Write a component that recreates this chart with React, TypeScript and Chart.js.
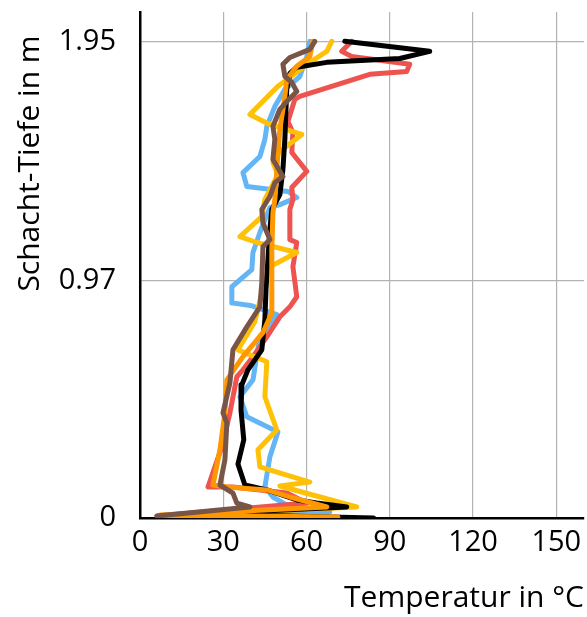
import React, { useEffect, useRef } from "react";
import { Chart, registerables } from "chart.js";

Chart.register(...registerables);

// [temperature °C, depth m]
const blackSeries: [number, number][] = [
  [73.8, 1.95], [104.4, 1.909], [93.6, 1.88], [67.3, 1.864], [56.5, 1.844], [54.0, 1.819],
  [52.9, 1.754], [52.6, 1.672], [52.2, 1.549], [51.5, 1.426], [50.4, 1.323], [47.5, 1.262],
  [46.8, 1.18], [46.1, 1.057], [45.4, 0.934], [45.0, 0.811], [43.9, 0.688], [38.9, 0.606],
  [36.7, 0.545], [36.4, 0.442], [37.4, 0.32], [35.3, 0.221], [37.8, 0.135], [45.7, 0.115],
  [56.5, 0.074], [63.7, 0.061], [74.5, 0.045], [21.6, 0.016], [84.2, 0],
];
const redSeries: [number, number][] = [
  [76.3, 1.95], [72.7, 1.909], [76.3, 1.888], [97.2, 1.856], [96.1, 1.827], [82.8, 1.815],
  [57.6, 1.725], [55.8, 1.713], [53.3, 1.622], [55.1, 1.577], [54.7, 1.495], [60.1, 1.418],
  [54.7, 1.352], [55.1, 1.303], [54.0, 1.262], [54.0, 1.139], [56.5, 1.127], [55.1, 1.028],
  [56.5, 0.905], [54.0, 0.864], [50.4, 0.823], [45.7, 0.741], [40.7, 0.66], [37.1, 0.606],
  [34.9, 0.578], [32.4, 0.43], [29.5, 0.291], [27.0, 0.209], [24.5, 0.127], [33.5, 0.127],
  [52.9, 0.102], [60.1, 0.061], [6.1, 0.008], [72.0, 0],
];
const blueSeries: [number, number][] = [
  [61.2, 1.95], [60.1, 1.888], [57.6, 1.806], [52.2, 1.754], [48.6, 1.684], [45.7, 1.602],
  [45.0, 1.549], [43.2, 1.479], [37.1, 1.413], [38.5, 1.356], [53.3, 1.336], [56.5, 1.311],
  [50.4, 1.282], [46.8, 1.27], [43.2, 1.168], [40.7, 1.086], [40.3, 1.016], [33.1, 0.946],
  [33.1, 0.88], [40.3, 0.868], [49.3, 0.832], [43.2, 0.741], [40.7, 0.565], [36.0, 0.496],
  [38.5, 0.414], [49.7, 0.352], [46.8, 0.25], [45.0, 0.127], [47.9, 0.086], [52.9, 0.053],
  [68.4, 0.025], [7.2, 0.008], [68.4, 0],
];
const yellowSeries: [number, number][] = [
  [69.1, 1.95], [67.3, 1.909], [61.2, 1.864], [56.5, 1.823], [49.7, 1.766], [39.6, 1.651],
  [46.8, 1.61], [58.3, 1.569], [50.4, 1.499], [47.9, 1.454], [49.7, 1.405], [45.0, 1.303],
  [43.9, 1.233], [36.0, 1.151], [42.1, 1.127], [56.5, 1.086], [46.8, 1.028], [43.9, 0.922],
  [41.4, 0.803], [35.3, 0.688], [45.7, 0.639], [45.0, 0.496], [49.3, 0.36], [42.5, 0.279],
  [43.2, 0.209], [61.2, 0.147], [50.4, 0.131], [78.1, 0.045], [9.0, 0.008], [75.6, 0],
];
const orangeSeries: [number, number][] = [
  [62.3, 1.95], [61.2, 1.888], [56.5, 1.848], [52.9, 1.794], [52.2, 1.725], [50.4, 1.59],
  [49.3, 1.426], [48.6, 1.303], [47.9, 1.249], [47.5, 1.098], [47.5, 0.975], [47.5, 0.84],
  [44.3, 0.758], [37.1, 0.66], [31.3, 0.565], [30.6, 0.43], [28.8, 0.279], [26.3, 0.135],
  [31.3, 0.127], [45.7, 0.115], [54.0, 0.086], [67.3, 0.045], [7.2, 0.012], [71.3, 0.004],
];
const brownSeries: [number, number][] = [
  [63.0, 1.95], [61.2, 1.917], [54.0, 1.884], [51.5, 1.856], [52.2, 1.807], [54.7, 1.782],
  [56.5, 1.745], [52.9, 1.704], [50.4, 1.672], [47.9, 1.602], [48.6, 1.549], [47.9, 1.467],
  [51.5, 1.397], [48.6, 1.372], [46.8, 1.315], [43.9, 1.262], [44.3, 1.208], [46.8, 1.139],
  [44.3, 1.11], [43.9, 0.963], [43.2, 0.864], [38.5, 0.782], [33.5, 0.688], [32.4, 0.553],
  [29.9, 0.43], [31.3, 0.389], [30.6, 0.238], [28.8, 0.135], [33.5, 0.102], [34.9, 0.061],
  [39.6, 0.045], [6.1, 0.008],
];

const xTicks = [0, 30, 60, 90, 120, 150];
const yTicks = [0, 0.97, 1.95];
const yTickLabels = ["0", "0.97", "1.95"];

const FONT = "'Open Sans', 'Noto Sans', sans-serif";

export default function App() {
  const ref = useRef<HTMLCanvasElement>(null);
  useEffect(() => {
    if (!ref.current) return;
    const mk = (data: [number, number][], color: string, order: number) => ({
      data: data.map(([x, y]) => ({ x, y })),
      borderColor: color,
      backgroundColor: color,
      borderWidth: 5,
      showLine: true,
      pointRadius: 0,
      borderCapStyle: "round" as const,
      borderJoinStyle: "round" as const,
      order,
    });
    const chart = new Chart(ref.current, {
      type: "scatter",
      data: {
        datasets: [
          mk(blueSeries, "#64B5F6", 5),
          mk(redSeries, "#EF5350", 4),
          mk(yellowSeries, "#FFC107", 3),
          mk(blackSeries, "#000000", 2),
          mk(orangeSeries, "#FF9800", 1),
          mk(brownSeries, "#795548", 0),
        ],
      },
      options: {
        animation: false,
        responsive: false,
        maintainAspectRatio: false,
        layout: { padding: { top: 12, right: 3, left: 0, bottom: 0 } },
        plugins: { legend: { display: false }, tooltip: { enabled: false } },
        scales: {
          x: {
            type: "linear",
            min: 0,
            max: 160,
            afterBuildTicks: (axis: any) => {
              axis.ticks = xTicks.map((v) => ({ value: v }));
            },
            afterFit: (axis: any) => {
              axis.height = 99;
              axis.paddingLeft = 0;
              axis.paddingRight = 0;
            },
            grid: { color: "#b3b3b3", lineWidth: 1.2, drawTicks: false },
            border: { color: "#000", width: 2.5 },
            ticks: {
              color: "#000",
              font: { family: FONT, size: 29 },
              padding: 7,
              maxRotation: 0,
            },
            title: {
              display: true,
              text: "Temperatur in °C",
              align: "end",
              color: "#000",
              font: { family: FONT, size: 30 },
              padding: { top: 8, bottom: 1 },
            },
          },
          y: {
            type: "linear",
            min: 0,
            max: 2.07,
            afterBuildTicks: (axis: any) => {
              axis.ticks = yTicks.map((v) => ({ value: v }));
            },
            afterFit: (axis: any) => {
              axis.width = 140;
              axis.paddingTop = 0;
              axis.paddingBottom = 0;
            },
            grid: { color: "#b3b3b3", lineWidth: 1.2, drawTicks: false },
            border: { color: "#000", width: 2.5 },
            ticks: {
              color: "#000",
              font: { family: FONT, size: 29 },
              padding: 24,
              callback: (v: any) => {
                const i = yTicks.indexOf(Number(v));
                return i >= 0 ? yTickLabels[i] : "";
              },
            },
            title: {
              display: true,
              text: "Schacht-Tiefe in m   ",
              align: "end",
              color: "#000",
              font: { family: FONT, size: 30 },
              padding: { top: 12, bottom: 0 },
            },
          },
        },
      },
    });
    return () => chart.destroy();
  }, []);
  return (
    <div style={{ position: "fixed", left: 0, top: 0, width: 587, height: 617, background: "#fff" }}>
      <canvas ref={ref} width={587} height={617} style={{ width: 587, height: 617 }} />
    </div>
  );
}
